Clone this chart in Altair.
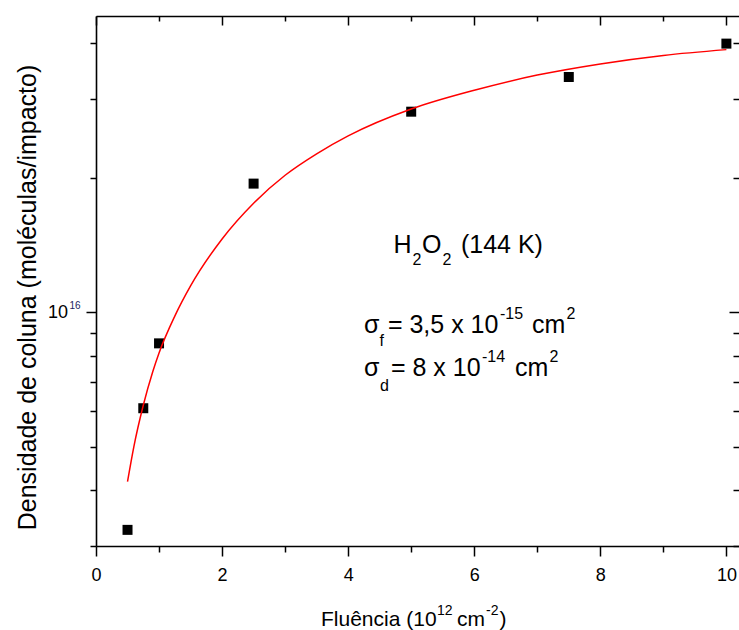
import altair as alt
import pandas as pd

# ---- data ----
pts_x = [0.5, 0.75, 1.0, 2.5, 5.0, 7.5, 10.0]
pts_y = [3.26e15, 6.10e15, 8.52e15, 1.94e16, 2.81e16, 3.36e16, 3.99e16]

fit_x = [0.5, 0.6, 0.75, 0.9, 1.0, 1.25, 1.5, 2.0, 2.5, 3.0, 3.5, 4.0,
         5.0, 6.0, 7.0, 8.0, 9.0, 10.0]
fit_y = [4.178e15, 5.000e15, 6.194e15, 7.362e15, 8.110e15, 9.806e15,
         1.1455e16, 1.4588e16, 1.7539e16, 2.0254e16, 2.2618e16, 2.4803e16,
         2.8484e16, 3.1371e16, 3.3926e16, 3.5938e16, 3.7546e16, 3.8686e16]

x_ticks = list(range(0, 11))
y_ticks = [3e15, 4e15, 5e15, 6e15, 7e15, 8e15, 9e15, 1e16, 2e16, 3e16, 4e16]

ann_x = [4.25]
ann_y = [9e15]
xtitle_x = [0.0]
xtitle_y = [3e15]
ylabel_x = [0.0]
ylabel_y = [1e16]

FONT = "Liberation Sans"

xs = alt.Scale(domain=[0, 10.2], nice=False, zero=False)
ys = alt.Scale(type="log", domain=[3e15, 4.6e16], nice=False)

x_major = "datum.value % 2 === 0"
y_major = "abs(log(datum.value) / LN10 - 16) < 0.001"

common = dict(grid=False, domainColor="black", tickColor="black",
              domainWidth=1.6, tickWidth=1.5, labelFont=FONT,
              labelFontSize=18, labelColor="black", titleFont=FONT,
              titleColor="black", titleFontWeight="normal",
              labelOverlap=False, labelFlush=False, labelBound=False)

x_bottom = alt.Axis(orient="bottom", values=x_ticks,
                    labelExpr=x_major + " ? datum.label : ''",
                    tickSize={"condition": {"test": x_major, "value": 10}, "value": 6},
                    labelBaseline="alphabetic", labelPadding=24,
                    title=None, **common)
x_top = alt.Axis(orient="top", values=x_ticks, labels=False, title=None,
                 tickSize={"condition": {"test": x_major, "value": -9}, "value": -5},
                 **common)
y_left = alt.Axis(orient="left", values=y_ticks, labels=False,
                  tickSize={"condition": {"test": y_major, "value": 10}, "value": 6},
                  title="Densidade de coluna (moléculas/impacto)",
                  titleFontSize=25, titleBaseline="alphabetic",
                  titleX=-61, titleY=281, **common)
y_right = alt.Axis(orient="right", values=y_ticks, labels=False, title=None,
                   domain=False,
                   tickSize={"condition": {"test": y_major, "value": -10}, "value": -6},
                   **common)

pts_df = pd.DataFrame({"x": pts_x, "y": pts_y})
fit_df = pd.DataFrame({"x": fit_x, "y": fit_y})
ann_df = pd.DataFrame({"x": ann_x, "y": ann_y})
xt_df = pd.DataFrame({"x": xtitle_x, "y": xtitle_y})
yl_df = pd.DataFrame({"x": ylabel_x, "y": ylabel_y})

line = alt.Chart(fit_df).mark_line(color="#ff0000", strokeWidth=1.5,
                                   interpolate="monotone").encode(
    x=alt.X("x:Q", scale=xs, axis=x_top),
    y=alt.Y("y:Q", scale=ys, axis=y_right),
)

points = alt.Chart(pts_df).mark_point(shape="square", filled=True,
                                      color="black", size=100,
                                      opacity=1).encode(
    x=alt.X("x:Q", scale=xs, axis=x_bottom),
    y=alt.Y("y:Q", scale=ys, axis=y_left),
)

# text pieces: (text, dx, dy, font size)
ann_segments = [
    ("H", 29.5, -80, 25), ("2", 48.5, -68, 16), ("O", 58, -80, 25),
    ("2", 78.5, -68, 16), ("(144 K)", 97, -80, 25),
    ("σ", 0, 0, 25), ("f", 15.5, 13, 16), ("= 3,5 x 10", 24, 0, 25),
    ("-15", 136, -14, 16), ("cm", 168, 0, 25), ("2", 202.5, -14, 16),
    ("σ", 0, 43.5, 25), ("d", 16, 58.5, 16), ("= 8 x 10", 27, 43.5, 25),
    ("-14", 118, 29.5, 16), ("cm", 151, 43.5, 25), ("2", 185.5, 29.5, 16),
]
xtitle_segments = [
    ("Fluência (10", 225, 80, 21), ("12", 341, 69, 14),
    ("cm", 361, 80, 21), ("-2", 390, 69, 14), (")", 403.5, 80, 21),
]
ylabel_segments = [
    ("10", -48, 6, 18), ("16", -26.5, -3.5, 10),
]


def text_layers(df, segs, colors=None):
    out = []
    for i, (t, dx, dy, fs) in enumerate(segs):
        col = colors[i] if colors else "black"
        out.append(
            alt.Chart(df).mark_text(text=t, dx=dx, dy=dy, fontSize=fs,
                                    font=FONT, align="left",
                                    baseline="alphabetic", color=col).encode(
                x=alt.X("x:Q", scale=xs, axis=None),
                y=alt.Y("y:Q", scale=ys, axis=None),
            )
        )
    return out


texts = (text_layers(ann_df, ann_segments)
         + text_layers(xt_df, xtitle_segments)
         + text_layers(yl_df, ylabel_segments, colors=["black", "#23235e"]))

chart = alt.layer(points, line, *texts).resolve_axis(
    x="independent", y="independent"
).properties(
    width=643, height=530,
    padding={"left": 96, "top": 16, "right": 0, "bottom": 84},
    autosize=alt.AutoSizeParams(type="none"),
    background="white",
).configure_view(stroke=None)

chart.save("out.html", embed_options={"renderer": "svg", "actions": False})
